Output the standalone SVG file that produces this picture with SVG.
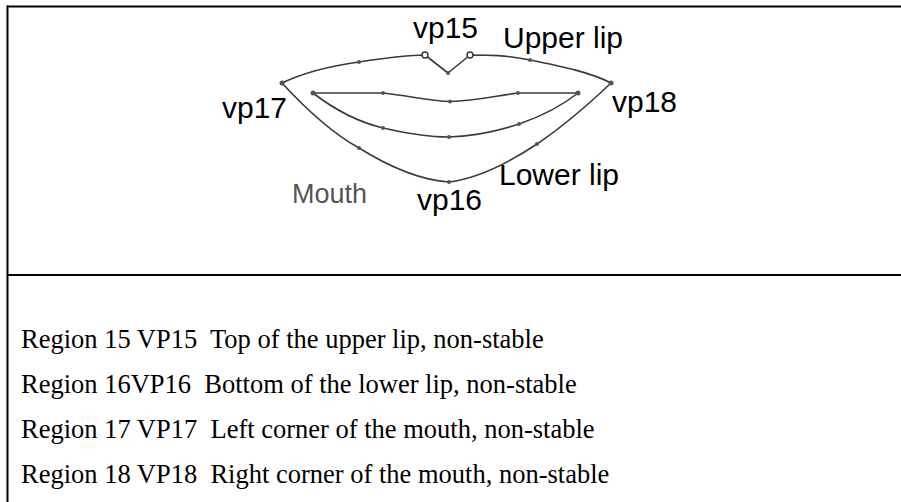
<svg xmlns="http://www.w3.org/2000/svg" width="901" height="502" viewBox="0 0 901 502">
  <style>
    .frame { stroke: #000; stroke-width: 2; fill: none; }
    .lip { stroke: #3a3a3a; stroke-width: 1.6; fill: none; stroke-linejoin: round; stroke-linecap: round; }
    .dot { fill: #555; stroke: none; }
    .ring { fill: #fff; stroke: #333; stroke-width: 1.4; }
    .lbl { font-family: "Liberation Sans", Arial, sans-serif; font-size: 30px; fill: #000; }
    .soft { font-family: "Liberation Sans", Arial, sans-serif; font-size: 27px; fill: #555; }
    .row { font-family: "Liberation Serif", "Times New Roman", serif; font-size: 26.5px; fill: #000; white-space: pre; }
  </style>

  <rect width="901" height="502" fill="#fff"/>

  <!-- table frame -->
  <g id="frame">
    <line class="frame" x1="7" y1="6.5" x2="901" y2="6.5"/>
    <line class="frame" x1="7.5" y1="5.5" x2="7.5" y2="502"/>
    <line class="frame" x1="7" y1="275" x2="901" y2="275"/>
  </g>

  <!-- mouth outline -->
  <g id="connectors">
    <!-- upper lip, outer edge -->
    <path class="lip" d="M282,83 C305,72 330,66 359,62 C385,58 405,55 425,55 L448,73 L470,55 C490,55 505,55 530,60 C565,67 592,73 611,83"/>
    <!-- upper lip, inner edge -->
    <path class="lip" d="M313,93 L383,93 C410,96 430,101 450,101.5 C475,101 495,96 518,93 L578,93"/>
    <!-- lower lip, inner edge -->
    <path class="lip" d="M313,93 C335,110 358,122 383,128 C405,133 428,137 449,137 C475,136 498,131 519,124 C545,115 563,105 578,93"/>
    <!-- lower lip, outer edge -->
    <path class="lip" d="M282,83 C305,108 330,132 359,148 C388,166 418,180 449,182 C480,178 510,162 537,144 C565,125 590,103 611,83"/>
  </g>

  <g id="points">
    <circle class="dot" cx="282" cy="83" r="2.5"/>
    <circle class="dot" cx="359" cy="62" r="2"/>
    <circle class="ring" cx="425" cy="55" r="3"/>
    <circle class="dot" cx="448" cy="73" r="2"/>
    <circle class="ring" cx="470" cy="55" r="3"/>
    <circle class="dot" cx="530" cy="60" r="2"/>
    <circle class="dot" cx="611" cy="83" r="2.5"/>
    <circle class="dot" cx="313" cy="93" r="2.5"/>
    <circle class="dot" cx="383" cy="93" r="2"/>
    <circle class="dot" cx="450" cy="101.5" r="2"/>
    <circle class="dot" cx="518" cy="93" r="2"/>
    <circle class="dot" cx="578" cy="93" r="2.5"/>
    <circle class="dot" cx="383" cy="128" r="2"/>
    <circle class="dot" cx="449" cy="137" r="2"/>
    <circle class="dot" cx="519" cy="124" r="2"/>
    <circle class="dot" cx="359" cy="148" r="2"/>
    <circle class="dot" cx="449" cy="182" r="2"/>
    <circle class="dot" cx="537" cy="144" r="2"/>
  </g>

  <g id="vp15"><text class="lbl" x="413" y="38">vp15</text></g>
  <g id="upper-lip"><text class="lbl" x="503" y="48">Upper lip</text></g>
  <g id="vp17"><text class="lbl" x="222" y="118">vp17</text></g>
  <g id="vp18"><text class="lbl" x="612" y="112">vp18</text></g>
  <g id="lower-lip"><text class="lbl" x="499" y="185">Lower lip</text></g>
  <g id="vp16"><text class="lbl" x="417" y="210">vp16</text></g>
  <g id="mouth"><text class="soft" x="292" y="203">Mouth</text></g>

  <!-- region descriptions -->
  <g id="regions">
    <text class="row" x="21" y="348" xml:space="preserve">Region 15 VP15  Top of the upper lip, non-stable</text>
    <text class="row" x="21" y="393" xml:space="preserve">Region 16VP16  Bottom of the lower lip, non-stable</text>
    <text class="row" x="21" y="438" xml:space="preserve">Region 17 VP17  Left corner of the mouth, non-stable</text>
    <text class="row" x="21" y="483" xml:space="preserve">Region 18 VP18  Right corner of the mouth, non-stable</text>
  </g>
</svg>
